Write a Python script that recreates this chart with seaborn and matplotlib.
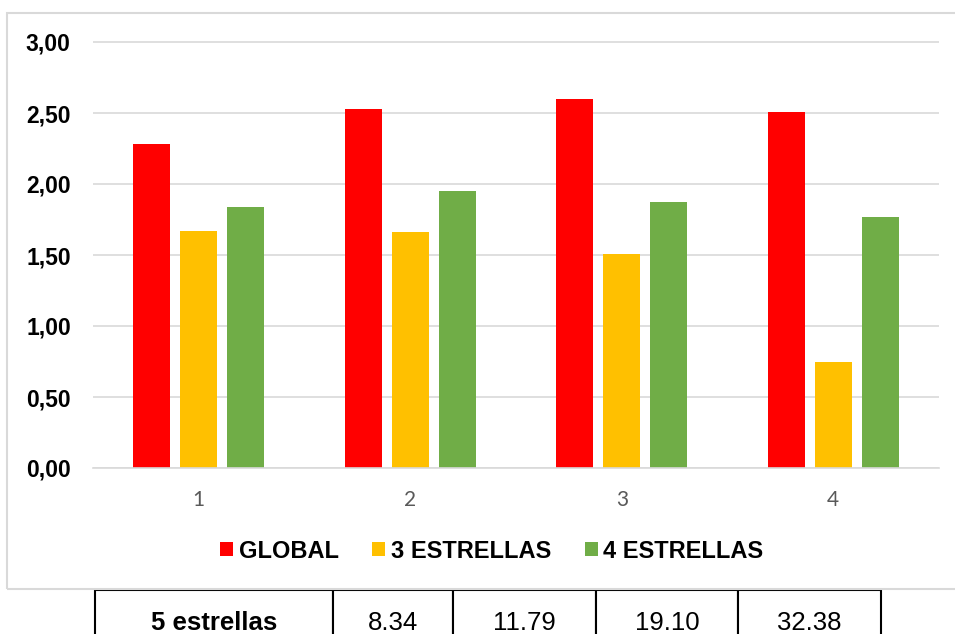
import numpy as np
import pandas as pd
import seaborn as sns
import matplotlib.pyplot as plt
from matplotlib.patches import Rectangle
from matplotlib.ticker import FuncFormatter, MultipleLocator

categories = ['1', '2', '3', '4']
series_names = ['GLOBAL', '3 ESTRELLAS', '4 ESTRELLAS']
global_vals = [2.28, 2.53, 2.60, 2.51]
tres_vals = [1.67, 1.66, 1.51, 0.75]
cuatro_vals = [1.84, 1.95, 1.87, 1.77]
colors = ['#FF0000', '#FFC000', '#70AD47']

table_label = '5 estrellas'
table_vals = ['8.34', '11.79', '19.10', '32.38']

df = pd.DataFrame({
    'cat': categories * 3,
    'serie': [s for s in series_names for _ in categories],
    'valor': global_vals + tres_vals + cuatro_vals,
})

sns.set_style('white')
plt.rcParams['font.family'] = ['Liberation Sans', 'DejaVu Sans']
plt.rcParams['text.color'] = 'black'

W, H = 955, 634
fig = plt.figure(figsize=(W / 100, H / 100), dpi=100)

# plot area in pixels: x 93..939, y(0)=468, 142 px per unit
ytop = 3.01
top_px = 468 - 142 * ytop
ax = fig.add_axes([93 / W, 1 - 468 / H, (939 - 93) / W, (468 - top_px) / H])

sns.barplot(data=df, x='cat', y='valor', hue='serie', palette=colors, saturation=1,
            width=0.667, gap=0.21, linewidth=0, ax=ax, legend=True)

ax.set_ylim(0, ytop)
ax.set_xlim(-0.5, 3.5)
ax.yaxis.set_major_locator(MultipleLocator(0.5))
ax.yaxis.set_major_formatter(FuncFormatter(lambda v, p: f'{v:.2f}'.replace('.', ',')))
ax.grid(axis='y', color='#d9d9d9', linewidth=1.2)
ax.set_axisbelow(True)
for s in ['top', 'right', 'left']:
    ax.spines[s].set_visible(False)
ax.spines['bottom'].set_color('#d9d9d9')
ax.spines['bottom'].set_linewidth(1.2)
ax.set_xlabel('')
ax.set_ylabel('')
ax.tick_params(axis='both', length=0)
ax.tick_params(axis='y', pad=16)
ax.tick_params(axis='x', pad=16)
for lab in ax.get_yticklabels():
    lab.set_fontsize(16.5)
    lab.set_fontweight('bold')
    lab.set_color('black')
for lab in ax.get_xticklabels():
    lab.set_fontsize(15)
    lab.set_family(['Lato', 'DejaVu Sans'])
    lab.set_color('#595959')

handles, labels = ax.get_legend_handles_labels()
ax.get_legend().remove()
leg = fig.legend(handles, labels, loc='center', bbox_to_anchor=(492 / W, 1 - 551 / H),
                 ncol=3, frameon=False, prop={'size': 17, 'weight': 'bold'},
                 handlelength=0.55, handleheight=0.55, handletextpad=0.25,
                 columnspacing=1.4)
for t in leg.get_texts():
    t.set_color('black')

# chart frame
fig.patches.append(Rectangle((7 / W, 1 - 589 / H), 1.0, (589 - 13) / H,
                             transform=fig.transFigure, fill=False,
                             edgecolor='#d9d9d9', linewidth=1.5))

# table below the chart (cut by the image edge)
tax = fig.add_axes([95 / W, 1 - 656 / H, (881 - 95) / W, (656 - 590) / H])
tax.axis('off')
widths = np.array([238, 120, 143, 142, 143], dtype=float)
tbl = tax.table(cellText=[[table_label] + table_vals], colWidths=list(widths / widths.sum()),
                cellLoc='center', bbox=[0, 0, 1, 1])
tbl.auto_set_font_size(False)
for (r, c), cell in tbl.get_celld().items():
    cell.set_edgecolor('black')
    cell.set_linewidth(1.5)
    cell.get_text().set_fontsize(18.5)
    cell.get_text().set_color('black')
    if c == 0:
        cell.get_text().set_fontweight('bold')

fig.savefig('out.png', dpi=100, facecolor='white')
